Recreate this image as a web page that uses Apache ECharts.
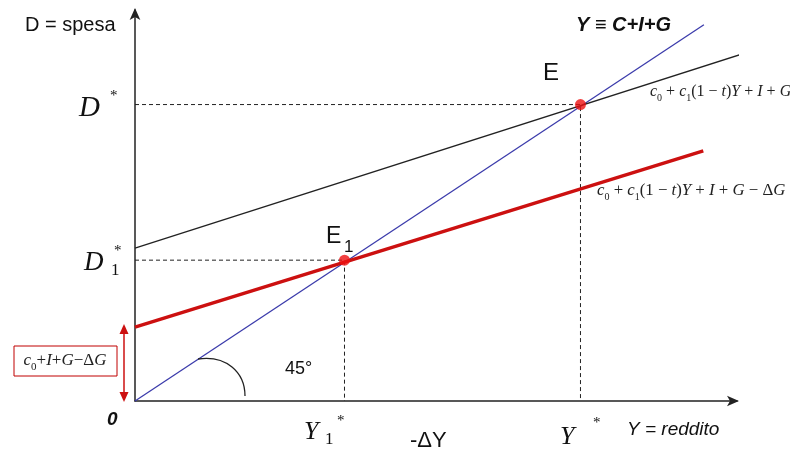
<!DOCTYPE html>
<html><head><meta charset="utf-8">
<script src="https://cdn.jsdelivr.net/npm/echarts@6/dist/echarts.min.js"></script>
<style>html,body{margin:0;padding:0;background:#fff}#c{width:790px;height:451px}</style>
</head><body><div id="c"></div>
<script>
// Axis ranges (Y = reddito on x, D = spesa on y)
const xRange = [0, 100];
const yRange = [0, 98];
// 45° line Y = C+I+G
const line45 = [[0, 0], [94.5, 94.3]];
// Aggregate demand c0 + c1(1-t)Y + I + G
const demandLine = [[0, 38.3], [103, 88]];
// Aggregate demand after ΔG cut
const demandLine2 = [[0, 18.5], [94.4, 62.7]];
// Equilibria
const eqE = [74, 74.3];
const eqE1 = [34.8, 35.3];

const chart = echarts.init(document.getElementById('c'));
const serif = '"Liberation Serif","DejaVu Serif",serif';
const sans = '"Liberation Sans",Arial,sans-serif';

function formula(txt, size) {
  return {
    i: {fontFamily: serif, fontStyle: 'italic', fontSize: size, lineHeight: size + 6, fill: '#222'},
    o: {fontFamily: serif, fontSize: size, lineHeight: size + 6, fill: '#222'},
    s: {fontFamily: serif, fontSize: Math.round(size * 0.62), verticalAlign: 'bottom', lineHeight: size + 6, fill: '#222'}
  };
}
const f1 = '{i|c}{s|0}{o| + }{i|c}{s|1}{o|(1 − }{i|t}{o|)}{i|Y}{o| + }{i|I}{o| + }{i|G}';
const f2 = '{i|c}{s|0}{o| + }{i|c}{s|1}{o|(1 − }{i|t}{o|)}{i|Y}{o| + }{i|I}{o| + }{i|G}{o| − Δ}{i|G}';
const f3 = '{i|c}{s|0}{o|+}{i|I}{o|+}{i|G}{o|−Δ}{i|G}';

function txt(x, y, text, font, extra) {
  return Object.assign({type: 'text', x: x, y: y, z: 10,
    style: Object.assign({text: text, font: font, fill: '#111', verticalAlign: 'middle', align: 'left'}, extra || {})});
}

chart.setOption({
  animation: false,
  grid: {left: 135, right: 53, top: 10, bottom: 50},
  xAxis: {type: 'value', min: xRange[0], max: xRange[1],
    axisLine: {show: true, lineStyle: {color: '#222', width: 1.5}, symbol: ['none', 'arrow'], symbolSize: [8, 12], symbolOffset: [0, 2]},
    axisTick: {show: false}, axisLabel: {show: false}, splitLine: {show: false}},
  yAxis: {type: 'value', min: yRange[0], max: yRange[1],
    axisLine: {show: true, lineStyle: {color: '#222', width: 1.5}, symbol: ['none', 'arrow'], symbolSize: [8, 12], symbolOffset: [0, 2]},
    axisTick: {show: false}, axisLabel: {show: false}, splitLine: {show: false}},
  series: [
    {type: 'line', data: [[0, eqE[1]], eqE, [eqE[0], 0]], symbol: 'none', clip: false,
      lineStyle: {color: '#222', width: 1, type: [4, 3]}},
    {type: 'line', data: [[0, eqE1[1]], eqE1, [eqE1[0], 0]], symbol: 'none', clip: false,
      lineStyle: {color: '#222', width: 1, type: [4, 3]}},
    {type: 'line', data: line45, symbol: 'none', clip: false, lineStyle: {color: '#3b3bab', width: 1.3}},
    {type: 'line', data: demandLine, symbol: 'none', clip: false, lineStyle: {color: '#222', width: 1.3}},
    {type: 'line', data: demandLine2, symbol: 'none', clip: false, lineStyle: {color: '#cc1010', width: 3.5}},
    {type: 'scatter', data: [eqE, eqE1], symbolSize: 11, itemStyle: {color: '#ee1111'}, z: 5}
  ],
  graphic: [
    txt(25, 25, 'D = spesa', '20px ' + sans),
    txt(576, 25, 'Y ≡ C+I+G', 'italic bold 20px ' + sans),
    txt(543, 73, 'E', '24px ' + sans),
    txt(326, 237, 'E', '23px ' + sans),
    txt(344, 247, '1', '17px ' + sans),
    txt(79, 108, 'D', 'italic 29px ' + serif),
    txt(110, 96, '*', '15px ' + serif),
    txt(84, 263, 'D', 'italic 27px ' + serif),
    txt(111, 271, '1', '17px ' + serif),
    txt(114, 251, '*', '15px ' + serif),
    txt(107, 420, '0', 'italic bold 19px ' + sans),
    txt(304, 432, 'Y', 'italic 26px ' + serif),
    txt(325, 440, '1', '17px ' + serif),
    txt(337, 421, '*', '15px ' + serif),
    txt(410, 441, '-ΔY', '22px ' + sans),
    txt(560, 437, 'Y', 'italic 26px ' + serif),
    txt(593, 423, '*', '15px ' + serif),
    txt(627, 430, 'Y = reddito', 'italic 19px ' + sans),
    txt(285, 369, '45°', '18px ' + sans),
    {type: 'text', x: 650, y: 92, z: 10, style: {text: f1, rich: formula(f1, 16), verticalAlign: 'middle'}},
    {type: 'text', x: 597, y: 191, z: 10, style: {text: f2, rich: formula(f2, 16.8), verticalAlign: 'middle'}},
    {type: 'rect', shape: {x: 14, y: 346, width: 103, height: 30}, style: {fill: '#fff', stroke: '#c00000', lineWidth: 1}, z: 9},
    {type: 'text', x: 65, y: 361, z: 10, style: {text: f3, rich: formula(f3, 17), align: 'center', verticalAlign: 'middle'}},
    {type: 'line', shape: {x1: 124, y1: 330, x2: 124, y2: 396}, style: {stroke: '#cc1010', lineWidth: 1.5}, z: 9},
    {type: 'polygon', shape: {points: [[124, 324], [119.5, 334], [128.5, 334]]}, style: {fill: '#cc1010'}, z: 9},
    {type: 'polygon', shape: {points: [[124, 402], [119.5, 392], [128.5, 392]]}, style: {fill: '#cc1010'}, z: 9},
    {type: 'bezierCurve', shape: {x1: 198, y1: 359, cpx1: 226, cpy1: 355, cpx2: 245, cpy2: 372, x2: 245, y2: 396},
      style: {stroke: '#222', lineWidth: 1.3, fill: null}, z: 9}
  ]
});
</script></body></html>
